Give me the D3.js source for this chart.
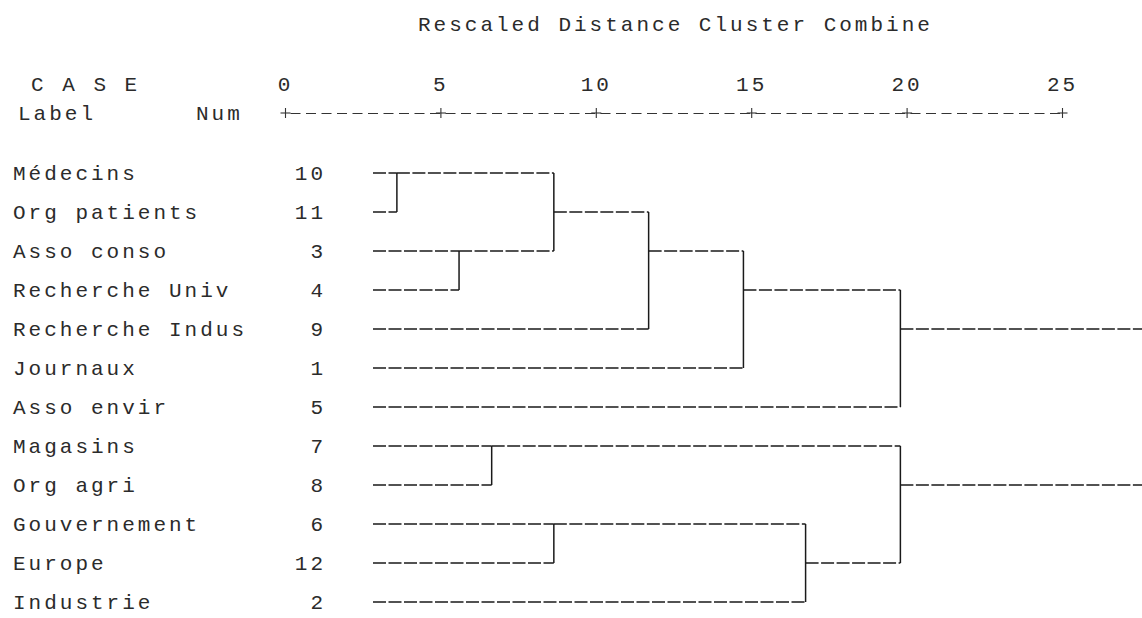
<!DOCTYPE html>
<html>
<head>
<meta charset="utf-8">
<script src="https://cdn.jsdelivr.net/npm/d3@7"></script>
<style>
  body { margin: 0; background: #fff; }
  text { font-family: "Liberation Mono", monospace; font-size: 21px; letter-spacing: 3px; fill: #2b2b2b; }
</style>
</head>
<body>
<svg id="dendro" width="1142" height="618"></svg>
<script>
// case labels and numbers, in display order (top to bottom)
var caseLabels = ["Médecins", "Org patients", "Asso conso", "Recherche Univ", "Recherche Indus", "Journaux",
	"Asso envir", "Magasins", "Org agri", "Gouvernement", "Europe", "Industrie"];
var caseNums = [10, 11, 3, 4, 9, 1, 5, 7, 8, 6, 12, 2];

// merges: [nodeA, nodeB, rescaled distance]; leaves are 0..11, merge i makes node 12+i
var merges = [
	[0, 1, 3.6],
	[2, 3, 5.6],
	[7, 8, 6.65],
	[12, 13, 8.65],
	[9, 10, 8.65],
	[15, 4, 11.7],
	[17, 5, 14.75],
	[16, 11, 16.75],
	[18, 6, 19.8],
	[14, 19, 19.8],
	[20, 21, 28]
];

var tickValues = [0, 5, 10, 15, 20, 25];

var svg = d3.select("#dendro");
svg.selectAll("*").remove();

var x = d3.scaleLinear().domain([0, 25]).range([285, 1062]);
var y = d3.scalePoint().domain(d3.range(caseLabels.length)).range([173, 602]);
var leafStart = 373;

// header
svg.append("text").attr("x", 418).attr("y", 31).text("Rescaled Distance Cluster Combine");
svg.append("text").attr("x", 31).attr("y", 91).text("C A S E");
svg.append("text").attr("x", 18).attr("y", 120).text("Label");
svg.append("text").attr("x", 196).attr("y", 120).text("Num");

// axis drawn like the text ruler "+---------+"
var axis = d3.axisTop(x).tickValues(tickValues).tickSize(5).tickSizeOuter(0);
var gAxis = svg.append("g")
	.attr("transform", "translate(0,113)")
	.call(axis);
gAxis.select(".domain")
	.attr("stroke", "#333")
	.attr("stroke-width", 1.1)
	.attr("stroke-dasharray", "10,5.5")
	.attr("stroke-dashoffset", -5);
gAxis.selectAll(".tick line")
	.attr("y1", 5).attr("y2", -5)
	.attr("stroke", "#333").attr("stroke-width", 1.1);
gAxis.selectAll(".tick line").each(function() {
	d3.select(this.parentNode).append("line")
		.attr("x1", -5).attr("x2", 5)
		.attr("stroke", "#333").attr("stroke-width", 1.1);
});
gAxis.selectAll(".tick text")
	.attr("y", -22).attr("dy", null)
	.style("font-family", "Liberation Mono, monospace")
	.style("font-size", "21px")
	.attr("fill", "#2b2b2b");
gAxis.attr("font-size", null).attr("font-family", null);

// case rows
var rows = svg.append("g");
rows.selectAll("text.lab")
	.data(caseLabels)
	.join("text")
	.attr("class", "lab")
	.attr("x", 13)
	.attr("y", function(d, i) { return y(i) + 7; })
	.text(function(d) { return d; });
rows.selectAll("text.num")
	.data(caseNums)
	.join("text")
	.attr("class", "num")
	.attr("x", 326)
	.attr("y", function(d, i) { return y(i) + 7; })
	.attr("text-anchor", "end")
	.text(function(d) { return d; });

// build segments
var nodes = caseLabels.map(function(d, i) { return {row: i, x: leafStart}; });
var hSegs = [], vSegs = [];
merges.forEach(function(m) {
	var a = nodes[m[0]], b = nodes[m[1]], mx = x(m[2]);
	hSegs.push({x1: a.x, x2: mx, row: a.row});
	hSegs.push({x1: b.x, x2: mx, row: b.row});
	vSegs.push({x: mx, r1: a.row, r2: b.row});
	nodes.push({row: Math.floor((a.row + b.row) / 2), x: mx});
});

var gLines = svg.append("g").attr("stroke", "#1a1a1a").attr("fill", "none");
gLines.selectAll("line.h")
	.data(hSegs)
	.join("line")
	.attr("class", "h")
	.attr("x1", function(d) { return d.x1; })
	.attr("x2", function(d) { return d.x2; })
	.attr("y1", function(d) { return y(d.row); })
	.attr("y2", function(d) { return y(d.row); })
	.attr("stroke-width", 1.5)
	.attr("stroke-dasharray", "13,2.5");
gLines.selectAll("line.v")
	.data(vSegs)
	.join("line")
	.attr("class", "v")
	.attr("x1", function(d) { return d.x; })
	.attr("x2", function(d) { return d.x; })
	.attr("y1", function(d) { return y(d.r1); })
	.attr("y2", function(d) { return y(d.r2); })
	.attr("stroke-width", 1.5);
</script>
</body>
</html>
